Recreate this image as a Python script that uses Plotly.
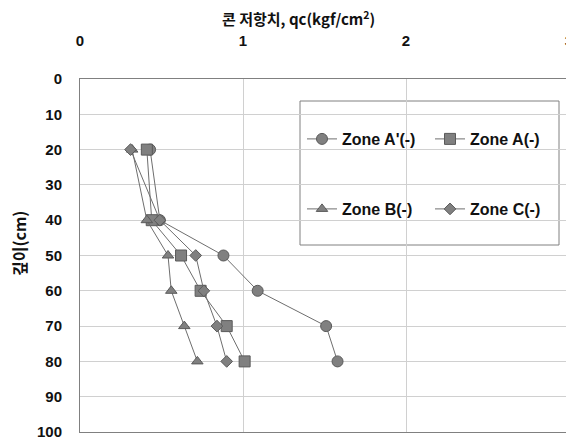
import plotly.graph_objects as go

depth = [20, 40, 50, 60, 70, 80]
zone_a_prime = [0.43, 0.49, 0.88, 1.09, 1.51, 1.58]
zone_a = [0.41, 0.44, 0.62, 0.74, 0.90, 1.01]
zone_b = [0.32, 0.41, 0.54, 0.56, 0.64, 0.72]
zone_c = [0.31, 0.49, 0.71, 0.76, 0.84, 0.90]

names = ["Zone A'(-)", "Zone A(-)", "Zone B(-)", "Zone C(-)"]
series = [zone_a_prime, zone_a, zone_b, zone_c]
symbols = ["circle", "square", "triangle-up", "diamond"]
sizes = [11, 11, 10, 9]
legends = ["legend", "legend", "legend2", "legend2"]

# page body has an 8px margin; figure is sized to fit the window
OFF = 8
W, H = 574 - OFF, 442 - OFF
L, T, R, B = 80 - OFF, 79 - OFF, 5, 10
PW, PH = W - L - R, H - T - B


def px_x(x):
    return (x - OFF - L) / PW


def px_y(y):
    return 1 - (y - OFF - T) / PH


fig = go.Figure()
for n, s, sym, sz, lg in zip(names, series, symbols, sizes, legends):
    fig.add_trace(go.Scatter(
        x=s, y=depth, name="<b>" + n + "</b>", mode="lines+markers",
        line=dict(color="#6e6e6e", width=1),
        marker=dict(symbol=sym, size=sz, color="#808080",
                    line=dict(color="#5a5a5a", width=1)),
        legend=lg,
    ))

tick_font = dict(family="Liberation Sans, Arial, sans-serif", size=15, color="#111111")
leg_font = dict(family="Liberation Sans, Arial, sans-serif", size=16, color="#111111")

fig.update_layout(
    width=W, height=H,
    margin=dict(l=L, r=R, t=T, b=B, autoexpand=False),
    paper_bgcolor="white", plot_bgcolor="white",
    font=tick_font,
    xaxis=dict(side="top", range=[0, 3], dtick=1, tick0=0,
               showgrid=True, gridcolor="#d0d0d0", gridwidth=1,
               showline=True, linecolor="#808080", mirror=True,
               zeroline=False, ticks="", ticklen=0, automargin=False,
               tickfont=tick_font, ticklabelstandoff=26,
               tickprefix="<b>", ticksuffix="</b>"),
    yaxis=dict(range=[100, 0], dtick=10, tick0=0,
               showgrid=True, gridcolor="#d0d0d0", gridwidth=1,
               showline=True, linecolor="#808080", mirror=True,
               zeroline=False, ticks="", ticklen=0, automargin=False,
               tickfont=tick_font, ticklabelstandoff=14,
               tickprefix="<b>", ticksuffix="</b>"),
    legend=dict(orientation="h", x=px_x(302), y=px_y(139),
                xanchor="left", yanchor="middle", bgcolor="rgba(0,0,0,0)",
                entrywidth=83, entrywidthmode="pixels", font=leg_font),
    legend2=dict(orientation="h", x=px_x(302), y=px_y(209),
                 xanchor="left", yanchor="middle", bgcolor="rgba(0,0,0,0)",
                 entrywidth=83, entrywidthmode="pixels", font=leg_font),
    showlegend=True,
)

fig.add_annotation(text="<b>콘 저항치, qc(kgf/cm<sup>2</sup>)</b>",
                   xref="paper", yref="paper", x=px_x(298), y=px_y(18),
                   xanchor="center", yanchor="middle", showarrow=False,
                   font=dict(family="Noto Sans CJK KR, Liberation Sans", size=15, color="#111"))
fig.add_annotation(text="<b>깊이(cm)</b>", textangle=-90,
                   xref="paper", yref="paper", x=px_x(19), y=px_y(244),
                   xanchor="center", yanchor="middle", showarrow=False,
                   font=dict(family="Noto Sans CJK KR, Liberation Sans", size=16, color="#111"))

fig.add_shape(type="rect", xref="paper", yref="paper",
              x0=px_x(300), x1=px_x(559),
              y0=px_y(245), y1=px_y(101),
              line=dict(color="#808080", width=1), fillcolor="white", layer="below")

fig.write_html("out.html")
